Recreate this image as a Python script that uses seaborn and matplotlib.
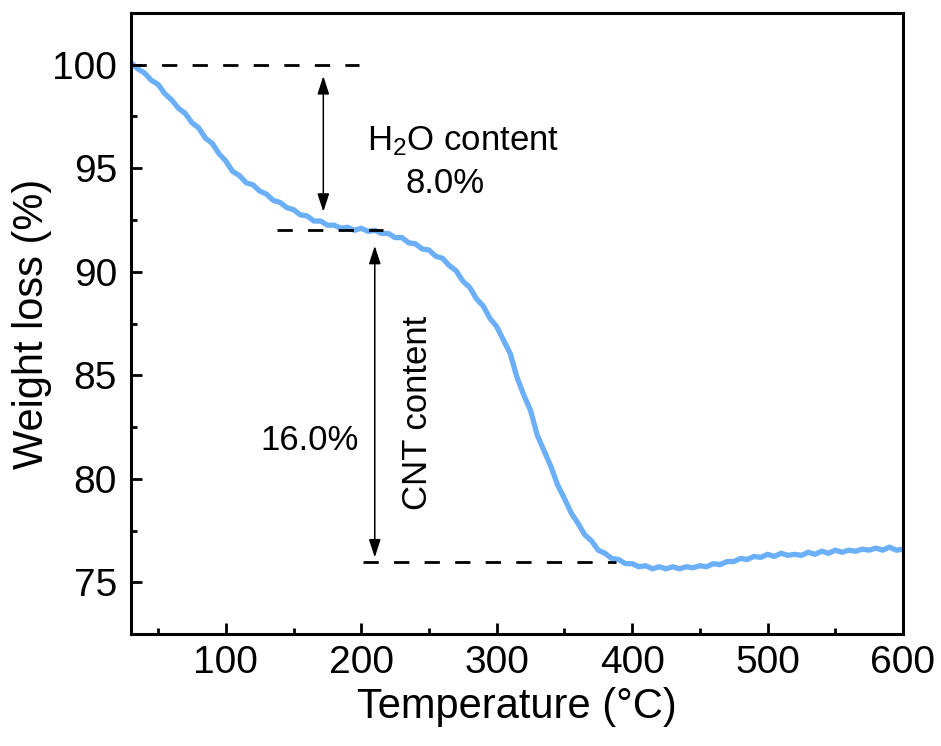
import numpy as np
import pandas as pd
import matplotlib
matplotlib.use("Agg")
import matplotlib.pyplot as plt
import seaborn as sns

# TGA curve (5 degC steps)
temperature = np.arange(30, 601, 5)
weight = [
    100.10, 99.80, 99.60, 99.25, 99.05, 98.60, 98.30, 97.90, 97.65, 97.20,
    96.95, 96.45, 96.20, 95.70, 95.35, 94.85, 94.65, 94.30, 94.20, 93.90,
    93.75, 93.45, 93.35, 93.10, 93.00, 92.75, 92.70, 92.45, 92.45, 92.25,
    92.25, 92.10, 92.15, 92.00, 92.10, 91.95, 92.00, 91.85, 91.85, 91.65,
    91.65, 91.40, 91.35, 91.10, 91.05, 90.75, 90.65, 90.30, 90.05, 89.55,
    89.25, 88.70, 88.35, 87.75, 87.35, 86.70, 86.05, 84.90, 84.05, 83.30,
    82.10, 81.35, 80.60, 79.70, 79.05, 78.35, 77.85, 77.30, 77.00, 76.55,
    76.40, 76.15, 76.10, 75.90, 75.90, 75.75, 75.80, 75.65, 75.75, 75.65,
    75.75, 75.65, 75.75, 75.70, 75.80, 75.75, 75.90, 75.85, 76.00, 76.00,
    76.15, 76.10, 76.25, 76.20, 76.35, 76.25, 76.40, 76.30, 76.35, 76.30,
    76.45, 76.35, 76.50, 76.40, 76.55, 76.45, 76.55, 76.50, 76.60, 76.55,
    76.65, 76.55, 76.70, 76.55, 76.60,
]
assert len(weight) == len(temperature)

# reference levels and their dashed guide spans
start_level, water_level, residue_level = 100.0, 92.0, 76.0
start_span = (30, 198)
water_span = (138, 216)
residue_span = (201, 388)

sns.set_theme(style="ticks")
plt.rcParams["font.family"] = ["Liberation Sans", "DejaVu Sans"]
plt.rcParams["mathtext.default"] = "regular"
plt.rcParams["text.color"] = "black"
plt.rcParams["axes.labelcolor"] = "black"

df = pd.DataFrame({"Temperature": temperature, "Weight": weight})

fig = plt.figure(figsize=(9.41, 7.46), dpi=100)
ax = fig.add_axes([0.1392, 0.1501, 0.8204, 0.8325])

sns.lineplot(data=df, x="Temperature", y="Weight", ax=ax,
             color="#6AAFF7", lw=3.8)

dash = dict(color="black", lw=2, dashes=(5.5, 5.5))
ax.plot(start_span, [start_level] * 2, **dash)
ax.plot(water_span, [water_level] * 2, **dash)
ax.plot(residue_span, [residue_level] * 2, **dash)

arrow = dict(arrowstyle="<|-|>,head_length=0.55,head_width=0.18",
             color="black", lw=1.1, shrinkA=0, shrinkB=0, mutation_scale=20)
ax.annotate("", xy=(172, 99.45), xytext=(172, 92.9), arrowprops=arrow)
ax.annotate("", xy=(210, 91.25), xytext=(210, 76.2), arrowprops=arrow)

ax.text(204, 96.3, "H$_2$O content", fontsize=25, ha="left", va="center")
ax.text(262, 94.27, "8.0%", fontsize=25, ha="center", va="center")
ax.text(162, 81.85, "16.0%", fontsize=25, ha="center", va="center")
ax.text(241.5, 83.2, "CNT content", fontsize=25, ha="center", va="center",
        rotation=90)

ax.set_xlim(30, 600)
ax.set_ylim(72.5, 102.5)
ax.set_xticks([100, 200, 300, 400, 500, 600])
ax.set_xticks(np.arange(50, 600, 100), minor=True)
ax.set_yticks([75, 80, 85, 90, 95, 100])
ax.set_yticks(np.arange(77.5, 102.5, 5), minor=True)

ax.tick_params(which="both", direction="in", width=2, colors="black",
               labelsize=28, top=False, right=False)
ax.tick_params(which="major", length=8)
ax.tick_params(which="minor", length=4.5)
ax.tick_params(axis="x", pad=8)
ax.tick_params(axis="y", pad=10)

for sp in ax.spines.values():
    sp.set_visible(True)
    sp.set_linewidth(2.2)
    sp.set_color("black")

ax.set_xlabel("Temperature (°C)", fontsize=30, labelpad=4)
ax.set_ylabel("Weight loss (%)", fontsize=30, labelpad=0)

fig.savefig("out.png", dpi=100)
